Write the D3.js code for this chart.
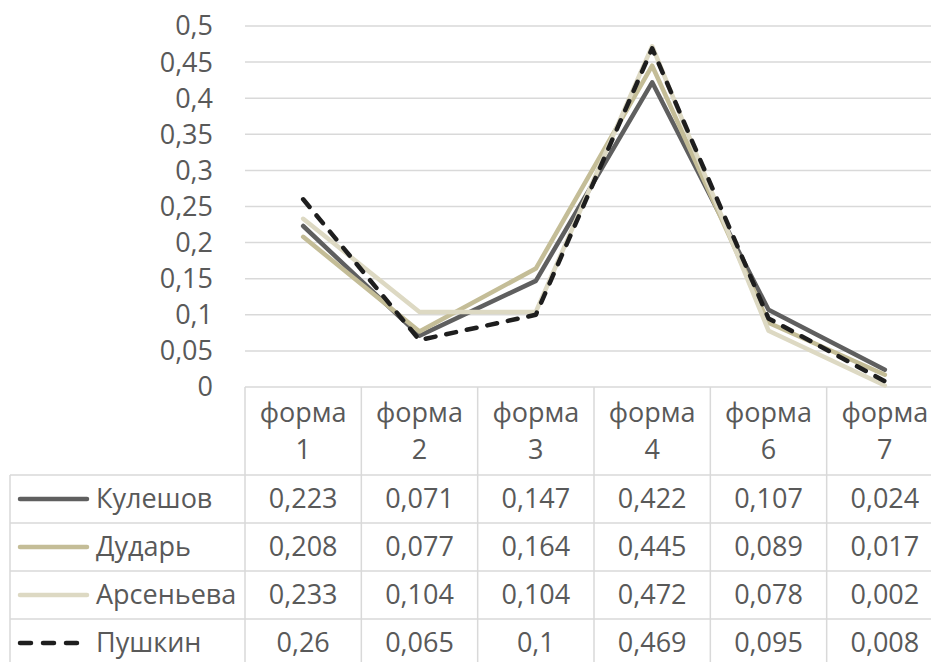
<!DOCTYPE html>
<html>
<head>
<meta charset="utf-8">
<script src="https://cdn.jsdelivr.net/npm/d3@7"></script>
<style>
  html, body { margin: 0; padding: 0; background: #fff; }
  svg { display: block; }
</style>
</head>
<body>
<svg id="chart" width="931" height="662"></svg>
<script>
(function() {

  const categories = ["форма 1", "форма 2", "форма 3", "форма 4", "форма 6", "форма 7"];
  const seriesNames = ["Кулешов", "Дударь", "Арсеньева", "Пушкин"];
  const kuleshov  = [0.223, 0.071, 0.147, 0.422, 0.107, 0.024];
  const dudar     = [0.208, 0.077, 0.164, 0.445, 0.089, 0.017];
  const arsenieva = [0.233, 0.104, 0.104, 0.472, 0.078, 0.002];
  const pushkin   = [0.26, 0.065, 0.1, 0.469, 0.095, 0.008];
  const yTicks = [0, 0.05, 0.1, 0.15, 0.2, 0.25, 0.3, 0.35, 0.4, 0.45, 0.5];

  const seriesValues = [kuleshov, dudar, arsenieva, pushkin];
  const seriesColors = ["#5f5f5f", "#c4bd97", "#ddd9c3", "#1e1e1e"];
  const seriesDash = [null, null, null, "10,11"];

  const TEXT = "#595959";
  const GRID = "#d9d9d9";
  const FONT = "'Open Sans', sans-serif";
  const FS = 27;

  const plot = { left: 245, right: 943, top: 26, bottom: 387 };
  const rowTops = [475, 523, 571, 619, 667];
  const tableLeft = 10;

  const svg = d3.select("#chart");

  const x = d3.scaleBand().domain(categories).range([plot.left, plot.right]);
  const y = d3.scaleLinear().domain([0, 0.5]).range([plot.bottom, plot.top]);

  const fmt = v => String(+v.toFixed(3)).replace(".", ",");

  // gridlines
  svg.append("g")
    .selectAll("line")
    .data(yTicks.slice(1))
    .join("line")
    .attr("x1", plot.left).attr("x2", plot.right)
    .attr("y1", d => y(d)).attr("y2", d => y(d))
    .attr("stroke", GRID).attr("stroke-width", 1.5);

  // y axis labels
  svg.append("g")
    .selectAll("text")
    .data(yTicks)
    .join("text")
    .attr("x", 213)
    .attr("y", d => y(d))
    .attr("dy", "0.35em")
    .attr("text-anchor", "end")
    .attr("font-family", FONT)
    .attr("font-size", FS)
    .attr("fill", TEXT)
    .text(fmt);

  // table grid
  const tg = svg.append("g").attr("stroke", GRID).attr("stroke-width", 1.5);
  tg.append("line")
    .attr("x1", plot.left).attr("x2", plot.right)
    .attr("y1", plot.bottom).attr("y2", plot.bottom);
  rowTops.slice(0, 4).forEach(ry => {
    tg.append("line")
      .attr("x1", tableLeft).attr("x2", plot.right)
      .attr("y1", ry).attr("y2", ry);
  });
  tg.append("line")
    .attr("x1", tableLeft).attr("x2", tableLeft)
    .attr("y1", rowTops[0]).attr("y2", 662);
  categories.forEach(c => {
    tg.append("line")
      .attr("x1", x(c)).attr("x2", x(c))
      .attr("y1", plot.bottom).attr("y2", 662);
  });
  tg.append("line")
    .attr("x1", plot.right).attr("x2", plot.right)
    .attr("y1", plot.bottom).attr("y2", 662);

  // header labels
  categories.forEach(c => {
    const parts = c.split(" ");
    const t = svg.append("text")
      .attr("text-anchor", "middle")
      .attr("font-family", FONT)
      .attr("font-size", FS)
      .attr("fill", TEXT);
    t.append("tspan").attr("x", x(c) + x.bandwidth() / 2).attr("y", 422).text(parts[0]);
    t.append("tspan").attr("x", x(c) + x.bandwidth() / 2).attr("y", 459).text(parts[1]);
  });

  // lines
  const line = d3.line()
    .x((d, i) => x(categories[i]) + x.bandwidth() / 2)
    .y(d => y(d));

  seriesValues.forEach((vals, s) => {
    svg.append("path")
      .datum(vals)
      .attr("d", line)
      .attr("fill", "none")
      .attr("stroke", seriesColors[s])
      .attr("stroke-width", 4.5)
      .attr("stroke-linejoin", "round")
      .attr("stroke-linecap", "round")
      .attr("stroke-dasharray", seriesDash[s]);
  });

  // table rows: legend key + values
  seriesNames.forEach((name, s) => {
    const cy = (rowTops[s] + rowTops[s + 1]) / 2;
    svg.append("line")
      .attr("x1", 20).attr("x2", s === 3 ? 78 : 87)
      .attr("y1", cy).attr("y2", cy)
      .attr("stroke", seriesColors[s])
      .attr("stroke-width", 4.5)
      .attr("stroke-linecap", "round")
      .attr("stroke-dasharray", s === 3 ? "11,12" : null);
    svg.append("text")
      .attr("x", 96).attr("y", cy)
      .attr("dy", "0.35em")
      .attr("font-family", FONT)
      .attr("font-size", FS)
      .attr("fill", TEXT)
      .text(name);
    seriesValues[s].forEach((v, i) => {
      svg.append("text")
        .attr("x", x(categories[i]) + x.bandwidth() / 2)
        .attr("y", cy)
        .attr("dy", "0.35em")
        .attr("text-anchor", "middle")
        .attr("font-family", FONT)
        .attr("font-size", FS)
        .attr("fill", TEXT)
        .text(fmt(v));
    });
  });

})();
</script>
</body>
</html>
